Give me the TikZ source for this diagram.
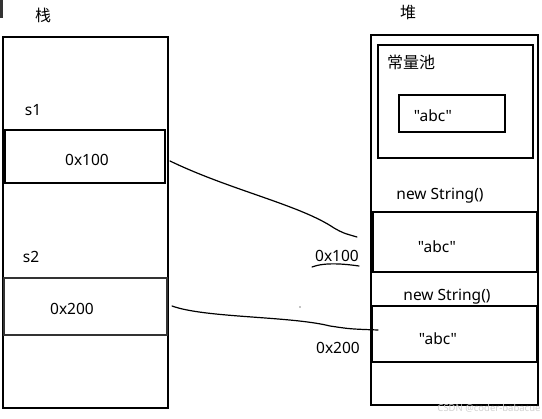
\documentclass[tikz,border=0pt]{standalone}
\usepackage{fontspec}
\setmainfont{Noto Sans}[Ligatures=TeXOff]
\newfontfamily\cjk{Noto Sans CJK SC}
\begin{document}
\begin{tikzpicture}[x=1pt,y=-1pt,
  lbl/.style={font=\fontsize{15.5}{17}\selectfont, inner sep=0pt},
  clbl/.style={font=\cjk\fontsize{16}{18}\selectfont, inner sep=0pt},
  thick box/.style={draw=black, line width=2pt},
  thin box/.style={draw=black!80, line width=1.3pt},
  wire/.style={draw=black, line width=1.2pt, line cap=round}]
\useasboundingbox (0,0) rectangle (542,419);
\fill[black!80] (0,0) rectangle (3,18);
% stack
\node[clbl] (tz) at (43,15) {栈};
\draw[thick box] (3,37) rectangle (168,408);
\draw[thick box] (5,130) rectangle (165,183);
\draw[thin box] (4,278) rectangle (167,335);
\node[lbl] (s1) at (33,110) {s1};
\node[lbl] (a1) at (87,160) {0x100};
\node[lbl] (s2) at (31,257) {s2};
\node[lbl] (a2) at (72,309) {0x200};
% heap
\node[clbl] (dui) at (408,12) {堆};
\draw[thick box] (371,35) rectangle (538,405);
\draw[draw=black, line width=2.5pt] (378,45) rectangle (533,158);
\node[clbl] (pool) at (411,62) {常量池};
\draw[thick box] (399,95) rectangle (505,132);
\node[lbl] (pabc) at (433,116) {"abc"};
\node[lbl] (ns1) at (440,196) {new String()};
\draw[thick box] (373,212) rectangle (537,272);
\node[lbl] (abc1) at (437,247) {"abc"};
\node[lbl] (ns2) at (447,297) {new String()};
\draw[draw=black, line width=1.6pt] (372,306) rectangle (537,362);
\node[lbl] (abc2) at (438,339) {"abc"};
\coordinate (h1) at (357,237);
\coordinate (h2) at (378,330);
\coordinate (s1r) at (170,161);
\coordinate (s2r) at (172,306);
\node[lbl] (r1) at (337,256) {0x100};
\node[lbl] (r2) at (338,348) {0x200};
% wires
\draw[wire] (s1r) .. controls (230,190) and (300,205) .. (334,228) .. controls (343,233) .. (h1);
\draw[wire] (s2r) .. controls (205,318) and (290,316) .. (330,326) .. controls (350,329) .. (h2);
\draw[wire] (312,267) .. controls (325,262) and (345,264) .. (359,266);
\fill (300,307) circle (0.6);
\node[font=\fontsize{9.5}{10}\selectfont, text=black!18, inner sep=0pt] (wm) at (489,408) {CSDN @coder-babacue};
\end{tikzpicture}
\end{document}
